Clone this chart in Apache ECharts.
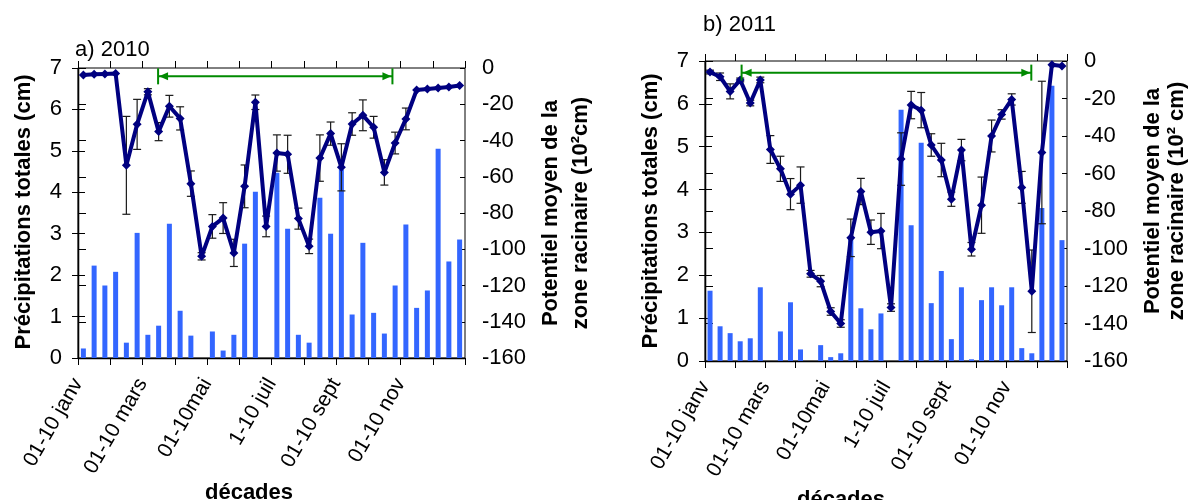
<!DOCTYPE html>
<html><head><meta charset="utf-8">
<script src="https://cdn.jsdelivr.net/npm/echarts@6/dist/echarts.min.js"></script>
<style>html,body{margin:0;padding:0;background:#fff}#c{width:1189px;height:500px}</style>
</head><body><div id="c"></div>
<script>
// ---- data ----
const decadeCount = 36;
const xTickLabels = ['01-10 janv', '01-10 mars', '01-10mai', '1-10 juil', '01-10 sept', '01-10 nov'];
const leftTicks = [0, 7, 1];
const rightTicks = [-160, 0, 20];

// 2010
const precipA = [0.23, 2.23, 1.75, 2.08, 0.37, 3.02, 0.56, 0.78, 3.24, 1.14, 0.54, 0, 0.64, 0.18, 0.56, 2.76, 4.01, 0,
  4.47, 3.12, 0.56, 0.37, 3.87, 3.0, 4.55, 1.05, 2.78, 1.09, 0.59, 1.75, 3.22, 1.21, 1.63, 5.05, 2.33, 2.86];
const potentialA = [-3.9, -3.5, -3.3, -3.1, -53.7, -31.1, -13.1, -35.1, -21.1, -27.8, -63.8, -103.9, -87.4, -82.8, -102, -65.3, -18.9, -87.4,
  -46.9, -47.6, -83.1, -98.4, -49.7, -36.2, -54.8, -30.9, -26.1, -32.7, -57.6, -41.4, -28.1, -12.1, -11.6, -11.0, -10.5, -9.7];
const errorA = [0, 0, 0, 0, 27, 13.8, 1.7, 5, 6, 6.4, 7, 2, 6.5, 8.5, 7.5, 11.8, 4, 5.7,
  10, 10.5, 5.8, 4, 12.8, 6.4, 13, 6.2, 8.5, 6, 7, 6, 6, 0, 0, 0, 0, 0];
const arrowA = [7.45, 29.25, -4.6];

// 2011
const precipB = [1.64, 0.81, 0.65, 0.46, 0.53, 1.72, 0, 0.69, 1.37, 0.27, 0, 0.37, 0.09, 0.18, 2.85, 1.23, 0.74, 1.11,
  0, 5.86, 3.17, 5.09, 1.35, 2.10, 0.51, 1.72, 0.04, 1.42, 1.72, 1.30, 1.72, 0.30, 0.18, 3.57, 6.42, 2.82];
const potentialB = [-5.9, -8.4, -16.2, -10.1, -22.4, -10.1, -47.2, -57.5, -71, -66.2, -113.5, -117.4, -133.6, -140, -94.3, -69.6, -91.3, -90.7,
  -131.5, -52.3, -23.5, -26.2, -44.8, -52.8, -73.7, -47.5, -100.4, -76.9, -40, -28.5, -20.5, -67.4, -122.8, -48.8, -2, -2.7];
const errorB = [1, 2, 4, 1, 1.5, 1.5, 7.4, 6.7, 8.3, 9.7, 1.8, 3, 2, 2, 10, 7, 6.5, 9.4,
  2, 14, 7.3, 9.4, 6, 8.9, 3.8, 5.7, 3.6, 15, 8.5, 2.5, 3, 8.5, 22, 38, 0, 0];
const arrowB = [3.64, 32.45, -6.2];

const titles = ['a) 2010', 'b) 2011'];
const leftName = 'Précipitations totales (cm)';
const rightNames = ['Potentiel moyen de la\nzone racinaire (10²cm)', 'Potentiel moyen de la\nzone racinaire (10² cm)'];
const xName = 'décades';

// ---- chart ----
const FONT = '"Liberation Sans", Arial, sans-serif';
const charts = [
  {precip: precipA, pot: potentialA, err: errorA, arrow: arrowA},
  {precip: precipB, pot: potentialB, err: errorB, arrow: arrowB}
];
const grids = [
  {left: 78, top: 68, width: 387, height: 290},
  {left: 705, top: 61, width: 362, height: 300}
];

const option = {animation: false, backgroundColor: '#fff', grid: [], xAxis: [], yAxis: [], series: [], graphic: []};

function errRender(params, api) {
  const x = api.value(0);
  const lo = api.coord([x, api.value(1)]);
  const hi = api.coord([x, api.value(2)]);
  const w = 4, st = {stroke: '#1a1a1a', lineWidth: 1.2};
  return {type: 'group', children: [
    {type: 'line', shape: {x1: lo[0], y1: lo[1], x2: hi[0], y2: hi[1]}, style: st},
    {type: 'line', shape: {x1: lo[0] - w, y1: lo[1], x2: lo[0] + w, y2: lo[1]}, style: st},
    {type: 'line', shape: {x1: hi[0] - w, y1: hi[1], x2: hi[0] + w, y2: hi[1]}, style: st}
  ]};
}
function arrowRender(params, api) {
  const p1 = api.coord([api.value(0), api.value(2)]);
  const p2 = api.coord([api.value(1), api.value(2)]);
  const c = '#008a00', st = {stroke: c, lineWidth: 2};
  return {type: 'group', children: [
    {type: 'line', shape: {x1: p1[0], y1: p1[1], x2: p2[0], y2: p2[1]}, style: st},
    {type: 'line', shape: {x1: p1[0], y1: p1[1] - 8, x2: p1[0], y2: p1[1] + 8}, style: st},
    {type: 'line', shape: {x1: p2[0], y1: p2[1] - 8, x2: p2[0], y2: p2[1] + 8}, style: st},
    {type: 'polygon', shape: {points: [[p1[0] + 1, p1[1]], [p1[0] + 10, p1[1] - 4], [p1[0] + 10, p1[1] + 4]]}, style: {fill: c}},
    {type: 'polygon', shape: {points: [[p2[0] - 1, p2[1]], [p2[0] - 10, p2[1] - 4], [p2[0] - 10, p2[1] + 4]]}, style: {fill: c}}
  ]};
}

charts.forEach((ch, k) => {
  option.grid.push(Object.assign({show: true, borderColor: '#000', borderWidth: 1, backgroundColor: 'transparent'}, grids[k]));
  const axLine = {show: true, lineStyle: {color: '#000', width: 1.3}};
  const tickSt = {color: '#000', width: 1};
  // x axes
  option.xAxis.push({
    gridIndex: k, type: 'value', min: 0, max: decadeCount, interval: 3, position: 'bottom',
    axisLine: axLine, axisTick: {show: true, length: 7, lineStyle: tickSt}, splitLine: {show: false},
    axisLabel: {rotate: 60, margin: 22, fontSize: 21, color: '#000', fontFamily: FONT,
      formatter: v => { const r = Math.round(v); return (r % 6 === 0 && r / 6 < xTickLabels.length) ? xTickLabels[r / 6] : ''; }}
  });
  option.xAxis.push({
    gridIndex: k, type: 'value', min: 0, max: decadeCount, interval: 3, position: 'bottom',
    axisLine: {show: false}, axisTick: {show: true, inside: true, length: 7, lineStyle: tickSt},
    axisLabel: {show: false}, splitLine: {show: false}
  });
  // y axes
  option.yAxis.push({
    gridIndex: k, type: 'value', min: leftTicks[0], max: leftTicks[1], interval: leftTicks[2], position: 'left',
    axisLine: axLine, axisTick: {show: true, length: 6, lineStyle: tickSt}, splitLine: {show: false},
    axisLabel: {margin: 16, fontSize: 22, color: '#000', fontFamily: FONT}
  });
  option.yAxis.push({
    gridIndex: k, type: 'value', min: rightTicks[0], max: rightTicks[1], interval: rightTicks[2], position: 'right',
    axisLine: axLine, axisTick: {show: true, length: 8, lineStyle: tickSt}, splitLine: {show: false},
    axisLabel: {margin: 17, fontSize: 22, color: '#000', fontFamily: FONT}
  });
  option.yAxis.push({
    gridIndex: k, type: 'value', min: leftTicks[0], max: leftTicks[1], interval: leftTicks[2], position: 'left',
    axisLine: {show: false}, axisTick: {show: true, inside: true, length: 7, lineStyle: tickSt},
    axisLabel: {show: false}, splitLine: {show: false}
  });
  option.yAxis.push({
    gridIndex: k, type: 'value', min: rightTicks[0], max: rightTicks[1], interval: rightTicks[2], position: 'right',
    axisLine: {show: false}, axisTick: {show: true, inside: true, length: 5, lineStyle: tickSt},
    axisLabel: {show: false}, splitLine: {show: false}
  });
  const xi = 2 * k, yl = 4 * k, yr = 4 * k + 1;
  option.series.push({
    type: 'bar', xAxisIndex: xi, yAxisIndex: yl, barWidth: 5, z: 2,
    itemStyle: {color: '#3366ff'}, data: ch.precip.map((v, i) => [i + 0.5, v])
  });
  option.series.push({
    type: 'custom', xAxisIndex: xi, yAxisIndex: yr, z: 3, renderItem: errRender,
    encode: {x: 0, y: [1, 2]},
    data: ch.pot.map((v, i) => [i + 0.5, v - ch.err[i], v + ch.err[i]]).filter(d => d[2] > d[1])
  });
  option.series.push({
    type: 'line', xAxisIndex: xi, yAxisIndex: yr, z: 4, symbol: 'diamond', symbolSize: 9,
    lineStyle: {color: '#000080', width: 4}, itemStyle: {color: '#000080'},
    data: ch.pot.map((v, i) => [i + 0.5, v])
  });
  option.series.push({
    type: 'custom', xAxisIndex: xi, yAxisIndex: yr, z: 5, renderItem: arrowRender,
    encode: {x: [0, 1], y: 2}, data: [ch.arrow]
  });
});

function txt(x, y, text, font, rot, extra) {
  return {type: 'text', x: x, y: y, rotation: rot || 0, z: 10,
    style: Object.assign({text: text, font: font, fill: '#000', align: 'center', verticalAlign: 'middle',
      textAlign: 'center', textVerticalAlign: 'middle'}, extra || {})};
}
const R = '22px ' + FONT, B = 'bold 22px ' + FONT;
const leftAl = {align: 'left', textAlign: 'left'};
option.graphic.push(
  txt(75, 50, titles[0], R, 0, leftAl),
  txt(703, 25, titles[1], R, 0, leftAl),
  txt(24, 212, leftName, B, Math.PI / 2),
  txt(651, 211, leftName, B, Math.PI / 2),
  txt(566, 213, rightNames[0], B, Math.PI / 2, {lineHeight: 30}),
  txt(1165, 201, rightNames[1], B, Math.PI / 2, {lineHeight: 24}),
  txt(249, 493, xName, B),
  txt(841, 500, xName, B)
);

const chart = echarts.init(document.getElementById('c'), null, {renderer: 'canvas'});
chart.setOption(option);
</script>
</body></html>
